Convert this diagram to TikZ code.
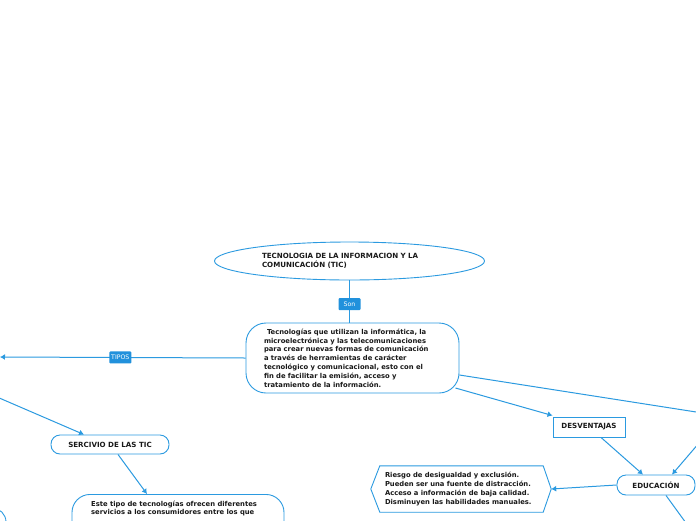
\documentclass[tikz,border=0pt]{standalone}
\usepackage{fontspec}
\setmainfont{DejaVu Sans}
\usetikzlibrary{shapes.geometric,arrows.meta,calc}
\definecolor{lblue}{RGB}{43,154,224}
\definecolor{labfill}{RGB}{33,145,220}
\tikzset{
  txt/.style={font=\bfseries\fontsize{6.8}{8.8}\selectfont, text=black!90},
  txtu/.style={font=\bfseries\fontsize{7.1}{8.8}\selectfont, text=black!90},
  rbox/.style={draw=lblue, line width=0.9pt, fill=white},
  arr/.style={draw=lblue, line width=1pt, -{Latex[length=5pt,width=6pt]}},
  ln/.style={draw=lblue, line width=1pt},
  lab/.style={fill=labfill, text=white, font=\fontsize{6.2}{7}\selectfont, rounded corners=1pt, inner sep=1pt, minimum width=22pt, minimum height=12pt}
}
\begin{document}
\begin{tikzpicture}[x=1pt,y=-1pt]
\useasboundingbox (0,0) rectangle (696,520);
\fill[white] (0,0) rectangle (696,520);

% nodes
\node[rbox, txtu, ellipse, minimum width=270pt, minimum height=38pt, inner sep=0pt, text width=175pt, align=left] (tic) at (349.5,261)
  {TECNOLOGIA DE LA INFORMACION Y LA\\COMUNICACIÓN (TIC)};

\node[rbox, txt, rounded corners=20pt, minimum width=213pt, minimum height=70pt, text width=177pt, align=left, inner sep=0pt] (main) at (352.5,358)
  {\hspace{3pt}Tecnologías que utilizan la informática, la\\
   microelectrónica y las telecomunicaciones\\
   para crear nuevas formas de comunicación\\
   a través de herramientas de carácter\\
   tecnológico y comunicacional, esto con el\\
   fin de facilitar la emisión, acceso y\\
   tratamiento de la información.};

\node[rbox, txtu, rounded corners=9pt, minimum width=118pt, minimum height=19pt, inner sep=0pt] (serv) at (110,444.5) {SERCIVIO DE LAS TIC};

\node[rbox, rounded corners=18pt, minimum width=212pt, minimum height=70pt, anchor=north, inner sep=0pt] (srvbox) at (178,494) {};
\node[txt, anchor=north west, align=left, inner sep=0pt] (srvtext) at (91,500.5)
  {Este tipo de tecnologías ofrecen diferentes\\servicios a los consumidores entre los que};

\node[rbox, txtu, minimum width=72pt, minimum height=20pt, inner sep=0pt] (desv) at (589,427) {DESVENTAJAS};

\node[rbox, txtu, rounded corners=9pt, minimum width=78pt, minimum height=20pt, inner sep=0pt] (edu) at (656,485) {EDUCACIÓN};

\node[txt, minimum width=163pt, minimum height=46pt, text width=153pt, align=left, inner sep=0pt] (risk) at (461.5,489)
  {Riesgo de desigualdad y exclusión.\\Pueden ser una fuente de distracción.\\Acceso a información de baja calidad.\\Disminuyen las habilidades manuales.};
\coordinate (riskR) at ($(risk.east)+(8,0)$);
\coordinate (riskL) at ($(risk.west)+(-9,0)$);
\draw[draw=lblue, line width=0.9pt] (risk.north west) -- (risk.north east) -- (riskR) -- (risk.south east) -- (risk.south west) -- (riskL) -- cycle;

% partial box at left bottom edge
\draw[draw=lblue, line width=0.9pt, rounded corners=14pt] (-200,508) rectangle (6,580);

% free ends
\coordinate (tl) at (0,357);
\coordinate (lf) at (-10,394);
\coordinate (rt1) at (700,412.6);
\coordinate (rt2) at (699,443);
\coordinate (rt3) at (686,523);

% connectors
\draw[ln] (tic.south) -- node[lab, pos=0.56] {Son} (tic.south |- main.north);
\draw[arr] (main.west) -- node[lab, pos=0.51] {TIPOS} (tl);
\draw[arr] (lf) -- ($(serv.north)+(-26,0)$);
\draw[arr] ($(serv.south)+(8,0)$) -- ($(srvbox.north)+(-31,0)$);
\draw[ln] ($(main.east)+(0,17)$) -- (rt1);
\draw[arr] ($(main.east)+(-4,30)$) -- ($(desv.north west)+(0,-1)$);
\draw[arr] ($(desv.south)+(12,0)$) -- ($(edu.north)+(-13,0)$);
\draw[arr] (rt2) -- ($(edu.north)+(16,0)$);
\draw[arr] (edu.west) -- (riskR);
\draw[ln] ($(edu.south)+(10,0)$) -- (rt3);
\end{tikzpicture}
\end{document}
